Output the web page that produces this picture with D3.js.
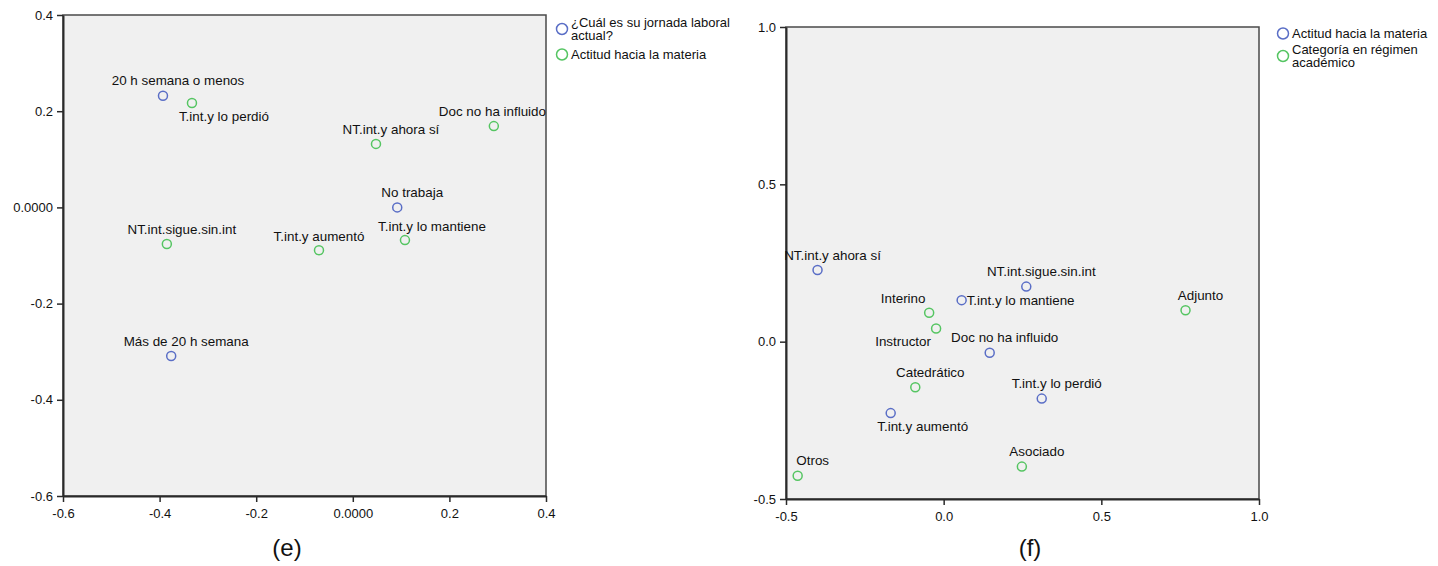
<!DOCTYPE html>
<html>
<head>
<meta charset="utf-8">
<script src="https://cdn.jsdelivr.net/npm/d3@7"></script>
<style>
  html, body { margin: 0; padding: 0; background: #fff; }
  svg { display: block; font-family: Arial, "Liberation Sans", sans-serif; }
</style>
</head>
<body>
<svg id="chart" width="1438" height="566"></svg>
<script>
// ---- Panel (e): jornada laboral vs actitud hacia la materia ----
const eSeries = ["¿Cuál es su jornada laboral actual?", "Actitud hacia la materia"];
const eNames = ["20 h semana o menos", "T.int.y lo perdió", "NT.int.y ahora sí", "Doc no ha influido",
                "No trabaja", "T.int.y lo mantiene", "T.int.y aumentó", "NT.int.sigue.sin.int", "Más de 20 h semana"];
const eGroup = [0, 1, 1, 1, 0, 1, 1, 1, 0];
const eDim1 = [-0.393, -0.333, 0.048, 0.292, 0.092, 0.108, -0.070, -0.385, -0.376];
const eDim2 = [0.232, 0.217, 0.132, 0.169, 0.000, -0.068, -0.089, -0.076, -0.309];
const eTicks = [-0.6, -0.4, -0.2, 0.0, 0.2, 0.4];
const eTickLabels = ["-0.6", "-0.4", "-0.2", "0.0000", "0.2", "0.4"];

// ---- Panel (f): actitud hacia la materia vs categoría académica ----
const fSeries = ["Actitud hacia la materia", "Categoría en régimen académico"];
const fNames = ["NT.int.y ahora sí", "NT.int.sigue.sin.int", "T.int.y lo mantiene", "Interino", "Instructor",
                "Doc no ha influido", "Catedrático", "T.int.y lo perdió", "T.int.y aumentó", "Asociado", "Otros", "Adjunto"];
const fGroup = [0, 0, 0, 1, 1, 0, 1, 0, 0, 1, 1, 1];
const fDim1 = [-0.400, 0.262, 0.057, -0.046, -0.024, 0.146, -0.090, 0.311, -0.168, 0.248, -0.463, 0.767];
const fDim2 = [0.228, 0.175, 0.132, 0.092, 0.042, -0.035, -0.145, -0.181, -0.227, -0.397, -0.426, 0.100];
const fTicks = [-0.5, 0.0, 0.5, 1.0];
const fTickLabels = ["-0.5", "0.0", "0.5", "1.0"];

// label placement around each point
const ePlace = ["n", "s", "n", "n", "n", "ne", "nc", "n", "n"];
const fPlace = ["n", "n", "e", "nw", "sw", "n", "n", "n", "s", "n", "n", "n"];

const seriesColors = ["#5a6ec6", "#55c562"];
const nudge = {
  n:  { dx: 15,  dy: -15, anchor: "middle" },
  nc: { dx: 0,   dy: -14, anchor: "middle" },
  ne: { dx: 27,  dy: -14, anchor: "middle" },
  s:  { dx: 32,  dy: 13,  anchor: "middle" },
  e:  { dx: 5,   dy: 0,   anchor: "start" },
  nw: { dx: -26, dy: -14, anchor: "middle" },
  sw: { dx: -33, dy: 13,  anchor: "middle" }
};

const svg = d3.select("#chart");

function drawPanel(cfg) {
  const x = d3.scaleLinear().domain(cfg.xDomain).range([cfg.left, cfg.right]);
  const y = d3.scaleLinear().domain(cfg.yDomain).range([cfg.bottom, cfg.top]);
  const g = svg.append("g");

  // plot background and frame
  g.append("rect")
    .attr("x", cfg.left).attr("y", cfg.top)
    .attr("width", cfg.right - cfg.left).attr("height", cfg.bottom - cfg.top)
    .attr("fill", "#f0f0f0").attr("stroke", "#4a4a4a").attr("stroke-width", 1.5);

  const fmt = (d) => cfg.tickLabels[cfg.ticks.indexOf(d)];

  const yAxis = g.append("g").attr("transform", `translate(${cfg.left},0)`)
    .call(d3.axisLeft(y).tickValues(cfg.ticks).tickFormat(fmt).tickSizeInner(6).tickSizeOuter(0).tickPadding(4));
  const xAxis = g.append("g").attr("transform", `translate(0,${cfg.bottom})`)
    .call(d3.axisBottom(x).tickValues(cfg.ticks).tickFormat(fmt).tickSizeInner(6).tickSizeOuter(0).tickPadding(7));
  [yAxis, xAxis].forEach(a => {
    a.select(".domain").attr("stroke", "#2a2a2a").attr("stroke-width", 2);
    a.selectAll(".tick line").attr("stroke", "#2a2a2a").attr("stroke-width", 1.5);
    a.selectAll(".tick text").attr("fill", "#111").style("font-size", "13px")
      .style("font-family", "Arial, 'Liberation Sans', sans-serif");
  });

  const idx = d3.range(cfg.names.length);

  // points
  g.selectAll("circle.pt").data(idx).join("circle")
    .attr("class", "pt")
    .attr("cx", i => x(cfg.dim1[i])).attr("cy", i => y(cfg.dim2[i]))
    .attr("r", 4.5).attr("fill", "none")
    .attr("stroke", i => seriesColors[cfg.group[i]]).attr("stroke-width", 1.5);

  // point labels
  g.selectAll("text.lbl").data(idx).join("text")
    .attr("class", "lbl")
    .attr("text-anchor", i => nudge[cfg.place[i]].anchor)
    .attr("dy", "0.35em")
    .style("font-size", "13.4px").attr("fill", "#111")
    .text(i => cfg.names[i])
    .each(function (i) {
      const n = nudge[cfg.place[i]];
      let cx = x(cfg.dim1[i]) + n.dx;
      if (n.anchor === "middle") {
        const w = this.getComputedTextLength();
        cx = Math.min(cx, cfg.right - w / 2);
      }
      d3.select(this).attr("x", cx).attr("y", y(cfg.dim2[i]) + n.dy);
    });

  // legend
  const lineH = 13;
  const lg = g.append("g").attr("transform", `translate(${cfg.legendX},${cfg.legendY})`);
  let yy = 0;
  cfg.series.forEach((s, k) => {
    const lines = cfg.legendLines[k];
    const h = lines.length * lineH;
    lg.append("circle").attr("cx", 0).attr("cy", yy + h / 2)
      .attr("r", 5.5).attr("fill", "none")
      .attr("stroke", seriesColors[k]).attr("stroke-width", 1.5);
    lines.forEach((ln, j) => {
      lg.append("text").attr("x", 9).attr("y", yy + j * lineH + lineH / 2)
        .attr("dy", "0.35em")
        .style("font-size", "13px").attr("fill", "#111").text(ln);
    });
    yy += h + cfg.legendGap;
  });

  // panel caption
  svg.append("text").attr("x", cfg.captionX).attr("y", 556)
    .attr("text-anchor", "middle").style("font-size", "24px").attr("fill", "#111")
    .text(cfg.caption);
}

drawPanel({
  names: eNames, group: eGroup, dim1: eDim1, dim2: eDim2, place: ePlace,
  series: eSeries, legendLines: [["¿Cuál es su jornada laboral", "actual?"], ["Actitud hacia la materia"]],
  ticks: eTicks, tickLabels: eTickLabels,
  xDomain: [-0.6, 0.4], yDomain: [-0.6, 0.4],
  left: 63, right: 546, top: 15, bottom: 496,
  legendX: 562, legendY: 16, legendGap: 6, caption: "(e)", captionX: 287
});

drawPanel({
  names: fNames, group: fGroup, dim1: fDim1, dim2: fDim2, place: fPlace,
  series: fSeries, legendLines: [["Actitud hacia la materia"], ["Categoría en régimen", "académico"]],
  ticks: fTicks, tickLabels: fTickLabels,
  xDomain: [-0.5, 1.0], yDomain: [-0.5, 1.0],
  left: 786, right: 1259, top: 27, bottom: 499,
  legendX: 1283, legendY: 27, legendGap: 3, caption: "(f)", captionX: 1030
});
</script>
</body>
</html>
